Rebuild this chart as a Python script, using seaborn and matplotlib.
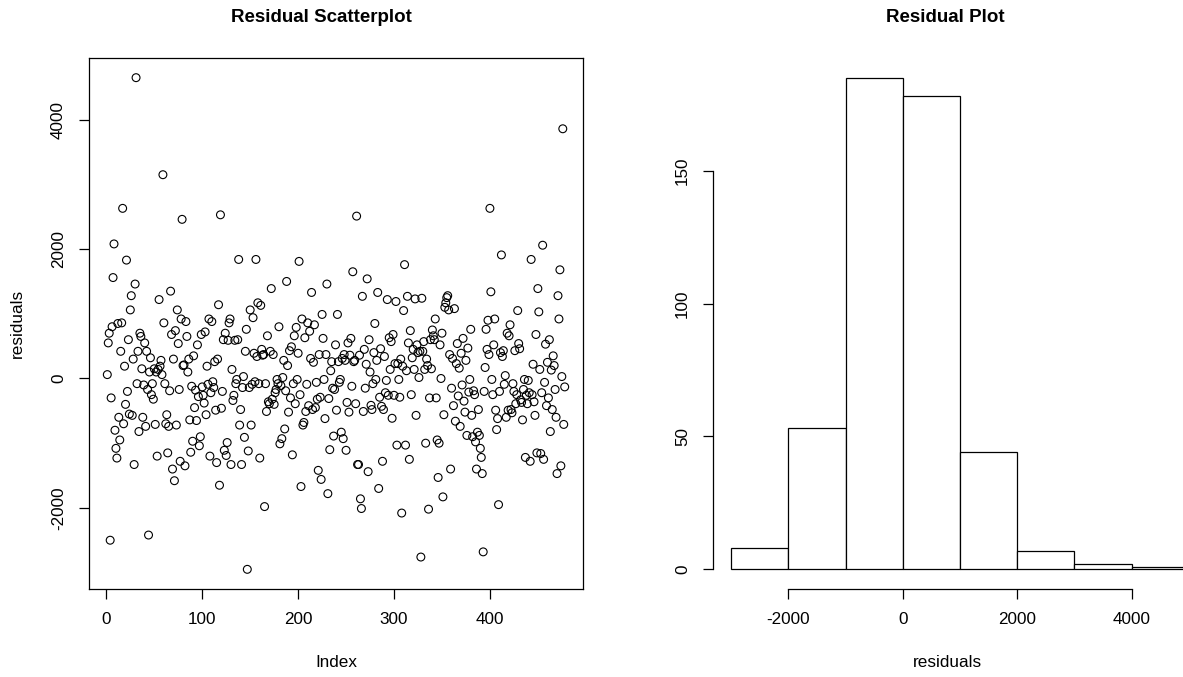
import numpy as np
import pandas as pd
import matplotlib
matplotlib.use("Agg")
import matplotlib.pyplot as plt
import seaborn as sns

residuals = [
    60, 550, 700, -2500, -300, 800, 1560, 2080, -800, -1080,
    -1230, 850, -600, -950, 420, 860, 2630, -700, 190, -400,
    1830, -200, 600, -550, 1060, 1280, -570, 300, -1330, 1460,
    4650, -80, 420, -820, 700, 650, 150, -600, -100, 550,
    -740, 420, -170, -2420, 100, 320, -250, -80, -320, 150,
    -710, 100, -1200, 140, 1220, 190, 280, 60, 3150, 860,
    -80, -700, -560, -1150, -740, -190, 1350, 680, -1400, 300,
    -1580, 740, -720, 1060, 540, -170, -1280, 920, 2460, 200,
    210, -1350, 880, 650, 100, 300, -640, -1140, -120, -970,
    350, -450, -180, -650, 520, -280, -1040, -900, 680, -130,
    -260, -380, 720, -560,
    190, -90, 920, -1200, -220, 880, -50, -140, 260, -490,
    -1300, 300, 1140, -1650, 2530, -460, -200, 600, -1110, 700,
    -1190, -990, 590, 860, 920, -1330, 140, -340, -260, 590,
    -80, -15, 600, 1840, -720, -480, -1330, -140, 30, -910,
    420, 760, -2950, -1120, -140, 1060, -720, -90, 940, 390,
    -50, 1840, 340, 1170, -80, -1230, 1130, 450, 360, 370,
    -1980, -80, -510, 660, -360, -390, 420, 1390, -320, 370,
    -400, -220, -170, -15, -80, 800, -1010, -110, -930, 15,
    280, -780, -190, 1500, 200, -520, 430, -300, 490, -1180,
    -80, 660, -390, 790, -15,
    390, 1810, -250, -1670, 920, -720, -680, 630, -510, -90,
    860, -420, 730, 310, 1330, -480, 250, 830, -450, -60,
    -320, -1420, 370, -290, -1560, 990, 620, -15, -620, 370,
    1460, -1780, -310, -1100, 120, 260, -150, -890, -170, 520,
    -490, 990, 260, -60, -15, -830, 310, -930, 370, 280,
    -1110, -370, 550, -520, 360, 620, -120, 1650, 260, 280,
    -390, 2510, -1330, -1330, 360, -1860, -2010, 1270, -510, 450,
    -150, 220, 1540, -1440, 600, 100, -415, -480, -80, 400,
    850, -15, 280, 1330, -1700, -290, 460, -430, -1280, -480,
    340, -220, -30, 1220, -260, 630, 140, 570, -615, 680,
    -260, 230, 1190, -1030, 230, -15, -290, 300, -2080, 190,
    1050, 1760, -1030, 120, 1270, 550, -1250, 740, -250, 320,
    450, 140, 1230, -570, 520, 400, 15, 420, -2760, 1240,
    420, 570, 140, -1000, 300, 200, -2020, -300, 600, 150,
    750, 660, 600, 920, -300, -950, -1530, -1000, 520, 0,
    700, -1830, -560, 1100, 1170, 1250, 1280, 1060, 370, -1400,
    -150, 310, -420, 1080, -660, 230, 540, -270, 160, -740,
    390, -100, 620, -350, -520, 280, -880, 470, -210,
    -15, 760, -570, -900, -190, -250, -980, -1400, -830, -480,
    -880, -1080, -1220, -1470, -2680, -200, 170, 760, 450, 900,
    370, 2630, 1340, -15, -250, 520, 920, -490, -790, -620,
    -1950, -200, 400, 1910, 340, 430, -90, 45, -600, 700,
    -490, 660, 830, -480, -530, -80, -200, 430, -390, -250,
    1050, 540, 460, -330, -370, -640, -170, -15, -1220, -260,
    -390, -30, -220, -1280, 1840, -250, 220, -360, -570, 680,
    -1150, 1390, 1030, 140, -1160, -220, 2060, -1250, -60, 530,
    -420, 250, -300, 600, -820, 130, -480, 350,
    200, -170, -600, -1470, 1280, 920, 1680, -1350, 30, 3860,
    -710, -130,
]

hist_breaks = list(range(-3000, 6000, 1000))
scatter_x_ticks = [0, 100, 200, 300, 400]
scatter_y_ticks = [-2000, 0, 2000, 4000]
hist_x_ticks = [-2000, 0, 2000, 4000]
hist_y_ticks = [0, 50, 100, 150]

sns.set_theme(style="white")
plt.rcParams['font.family'] = ['Liberation Sans', 'DejaVu Sans']

W, H = 1183, 677
fig = plt.figure(figsize=(W / 100, H / 100), dpi=100)
fig.patch.set_facecolor("white")


def rect(l, t, r, b):
    return [l / W, 1 - b / H, (r - l) / W, (b - t) / H]


ax1 = fig.add_axes(rect(89, 58, 583, 589))
ax2 = fig.add_axes(rect(713, 58, 1207, 589))

n = len(residuals)
df = pd.DataFrame({"Index": np.arange(1, n + 1), "residuals": residuals})

sns.scatterplot(data=df, x="Index", y="residuals", ax=ax1, marker="o",
                facecolors="none", edgecolor="black", s=32, linewidth=0.8)
ax1.set_xlim(1 - 0.04 * (n - 1), n + 0.04 * (n - 1))
rmin, rmax = min(residuals), max(residuals)
rr = rmax - rmin
ax1.set_ylim(rmin - 0.04 * rr, rmax + 0.04 * rr)
ax1.set_xticks(scatter_x_ticks)
ax1.set_yticks(scatter_y_ticks)
ax1.set_xticklabels([str(v) for v in scatter_x_ticks])
ax1.set_yticklabels([str(v) for v in scatter_y_ticks])
for sp in ax1.spines.values():
    sp.set_visible(True)
    sp.set_color("black")
    sp.set_linewidth(0.9)

sns.histplot(x=residuals, bins=hist_breaks, ax=ax2, stat="count",
             color="white", edgecolor="black", linewidth=0.9, alpha=1)
counts, _ = np.histogram(residuals, bins=hist_breaks)
cmax = counts.max()
ax2.set_xlim(hist_breaks[0] - 0.04 * (hist_breaks[-1] - hist_breaks[0]),
             hist_breaks[-1] + 0.04 * (hist_breaks[-1] - hist_breaks[0]))
ax2.set_ylim(-0.04 * cmax, cmax * 1.04)
ax2.set_xticks(hist_x_ticks)
ax2.set_yticks(hist_y_ticks)
ax2.set_xticklabels([str(v) for v in hist_x_ticks])
ax2.set_yticklabels([str(v) for v in hist_y_ticks])
for s in ["top", "right"]:
    ax2.spines[s].set_visible(False)
for s in ["left", "bottom"]:
    ax2.spines[s].set_visible(True)
    ax2.spines[s].set_color("black")
    ax2.spines[s].set_linewidth(0.9)
ax2.spines["left"].set_bounds(hist_y_ticks[0], hist_y_ticks[-1])
ax2.spines["bottom"].set_bounds(hist_x_ticks[0], hist_x_ticks[-1])
ax2.set_facecolor("white")

for ax in (ax1, ax2):
    ax.grid(False)
    ax.tick_params(axis="both", which="major", bottom=True, left=True,
                   direction="out", length=7.5, width=0.9, color="black",
                   labelsize=12.3, labelcolor="black", pad=9)
    ax.tick_params(axis="y", labelrotation=90)
    for lab in ax.get_yticklabels():
        lab.set_va("center")

ax1.set_xlabel("Index", fontsize=12.3, color="black")
ax1.set_ylabel("residuals", fontsize=12.3, color="black")
ax1.xaxis.set_label_coords(0.5, -0.125)
ax1.yaxis.set_label_coords(-0.13, 0.5)
ax2.set_xlabel("residuals", fontsize=12.3, color="black")
ax2.set_ylabel("")
ax2.xaxis.set_label_coords(0.474, -0.125)

fig.text(321 / W, 1 - 18 / H, "Residual Scatterplot", ha="center", va="center",
         fontsize=13.5, fontweight="bold", color="black")
fig.text(945 / W, 1 - 18 / H, "Residual Plot", ha="center", va="center",
         fontsize=13.5, fontweight="bold", color="black")

fig.savefig("out.png", dpi=100, facecolor="white")
